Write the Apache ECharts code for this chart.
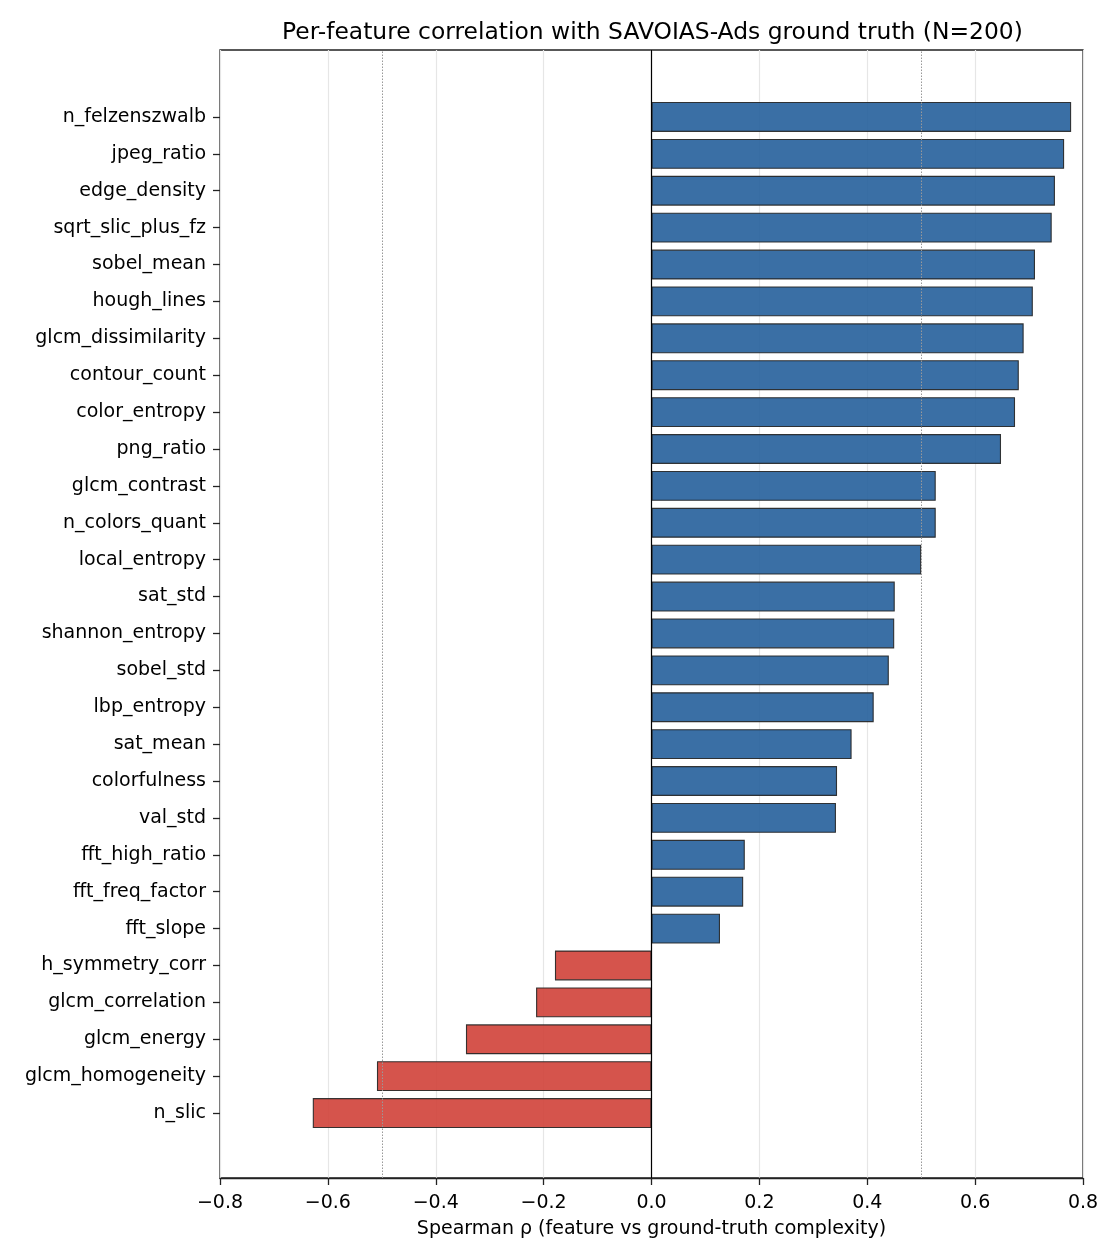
<!DOCTYPE html>
<html>
<head>
<meta charset="utf-8">
<script src="https://cdn.jsdelivr.net/npm/echarts@6/dist/echarts.min.js"></script>
<style>
html, body { margin: 0; padding: 0; background: #fff; }
#chart { width: 1120px; height: 1260px; }
</style>
</head>
<body>
<div id="chart"></div>
<script>
// feature names, top to bottom
var features = ['n_felzenszwalb', 'jpeg_ratio', 'edge_density', 'sqrt_slic_plus_fz', 'sobel_mean',
    'hough_lines', 'glcm_dissimilarity', 'contour_count', 'color_entropy', 'png_ratio',
    'glcm_contrast', 'n_colors_quant', 'local_entropy', 'sat_std', 'shannon_entropy',
    'sobel_std', 'lbp_entropy', 'sat_mean', 'colorfulness', 'val_std',
    'fft_high_ratio', 'fft_freq_factor', 'fft_slope', 'h_symmetry_corr', 'glcm_correlation',
    'glcm_energy', 'glcm_homogeneity', 'n_slic'];

// spearman rho per feature
var rho = [0.778, 0.765, 0.748, 0.742, 0.711,
    0.707, 0.690, 0.681, 0.674, 0.648,
    0.527, 0.527, 0.500, 0.451, 0.450,
    0.440, 0.412, 0.371, 0.344, 0.342,
    0.173, 0.170, 0.127, -0.179, -0.214,
    -0.344, -0.509, -0.628];

var xTicks = [-0.8, -0.6, -0.4, -0.2, 0.0, 0.2, 0.4, 0.6, 0.8];
var refLines = [-0.5, 0.5];

var FONT = 'DejaVu Sans';
var chart = echarts.init(document.getElementById('chart'));

function fmtTick(v) {
    return v.toFixed(1).replace('-', '\u2212');
}

var option = {
    animation: false,
    backgroundColor: '#fff',
    textStyle: { fontFamily: FONT },
    graphic: [{
        type: 'text',
        left: 282,
        top: 21,
        style: {
            text: 'Per-feature correlation with SAVOIAS-Ads ground truth (N=200)',
            font: '23.4px "DejaVu Sans"',
            fill: '#000'
        }
    }],
    grid: [
        // frame + x axis
        { left: 220, right: 37, top: 50, bottom: 82, show: true, borderColor: '#222', borderWidth: 1.3, z: 0 },
        // bars
        { left: 220, right: 37, top: 98.5, bottom: 128.5 }
    ],
    xAxis: [{
        gridIndex: 0,
        type: 'value',
        min: xTicks[0],
        max: xTicks[xTicks.length - 1],
        interval: 0.2,
        name: 'Spearman \u03c1 (feature vs ground-truth complexity)',
        nameLocation: 'middle',
        nameGap: 42,
        nameTextStyle: { fontSize: 19, color: '#000', fontFamily: FONT },
        axisLine: { show: true, lineStyle: { color: '#222', width: 1.3 } },
        axisTick: { show: true, length: 7, lineStyle: { color: '#222', width: 1.3 } },
        axisLabel: { fontSize: 19, color: '#000', margin: 16, formatter: fmtTick, fontFamily: FONT },
        splitLine: { show: true, lineStyle: { color: '#e6e6e6', width: 1.2 } }
    }, {
        gridIndex: 1,
        type: 'value',
        min: xTicks[0],
        max: xTicks[xTicks.length - 1],
        show: false
    }],
    yAxis: [{
        gridIndex: 0,
        type: 'value',
        min: 0,
        max: 1,
        show: false
    }, {
        gridIndex: 1,
        type: 'category',
        data: features,
        inverse: true,
        axisLine: { show: false, onZero: false },
        axisTick: { show: true, alignWithLabel: true, length: 7, lineStyle: { color: '#222', width: 1.3 } },
        axisLabel: { fontSize: 19, color: '#000', margin: 14, fontFamily: FONT },
        splitLine: { show: false }
    }],
    series: [{
        // reference lines on the frame grid
        type: 'line',
        xAxisIndex: 0,
        yAxisIndex: 0,
        data: [],
        silent: true,
        z: 1,
        markLine: {
            silent: true,
            symbol: 'none',
            label: { show: false },
            data: refLines.map(function (v) {
                return { xAxis: v, lineStyle: { color: '#999', type: [1.5, 1.5], width: 1 } };
            })
        }
    }, {
        type: 'bar',
        xAxisIndex: 1,
        yAxisIndex: 1,
        data: rho,
        barWidth: '81%',
        z: 2,
        itemStyle: {
            color: function (p) { return p.value >= 0 ? '#255f9b' : '#d04138'; },
            opacity: 0.9,
            borderColor: '#222',
            borderWidth: 1.1
        }
    }, {
        // zero line on top
        type: 'line',
        xAxisIndex: 0,
        yAxisIndex: 0,
        data: [],
        silent: true,
        z: 3,
        markLine: {
            silent: true,
            symbol: 'none',
            label: { show: false },
            data: [{ xAxis: 0, lineStyle: { color: '#000', type: 'solid', width: 1.2 } }]
        }
    }]
};

chart.setOption(option);
</script>
</body>
</html>
